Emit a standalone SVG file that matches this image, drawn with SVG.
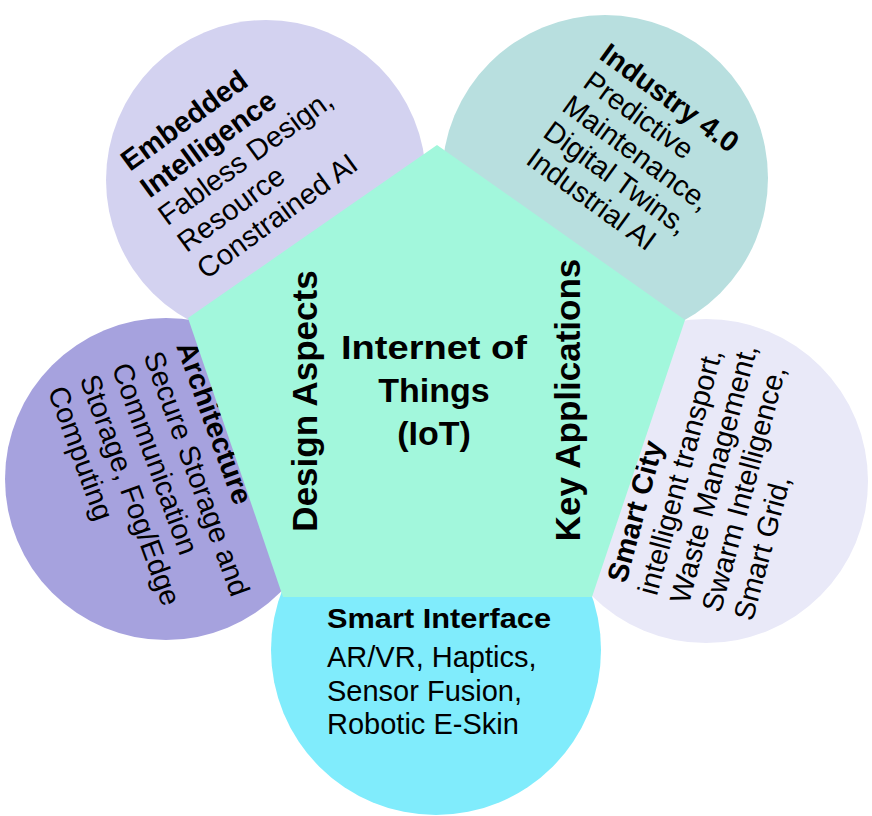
<svg xmlns="http://www.w3.org/2000/svg" width="872" height="816" viewBox="0 0 872 816">
<style>
text{font-family:"Liberation Sans",Arial,sans-serif;fill:#000}
.t{font-size:29px}
.b{font-weight:bold}
.c{font-weight:bold;font-size:34px;text-anchor:middle}
.v{font-weight:bold;font-size:35px;text-anchor:middle}
</style>
<rect width="872" height="816" fill="#fff"/>
<g id="embedded"><circle cx="266" cy="180" r="160" fill="#d3d2f0"/>
<g transform="translate(130,172) rotate(-36)" class="t"><text class="b" x="0" y="0">Embedded</text><text class="b" x="0" y="33">Intelligence</text><text x="-2" y="66">Fabless Design,</text><text x="-2" y="99">Resource</text><text x="-2" y="132">Constrained AI</text></g></g>
<g id="industry"><circle cx="605" cy="178" r="163" fill="#b8dfdf"/>
<g transform="translate(598,58) rotate(36)" class="t"><text class="b" x="0" y="0">Industry 4.0</text><text x="3" y="32">Predictive</text><text x="0" y="64">Maintenance,</text><text x="0" y="96">Digital Twins,</text><text x="2" y="128">Industrial AI</text></g></g>
<g id="architecture"><circle cx="166" cy="479" r="161" fill="#a6a2de"/>
<g transform="translate(176,346) rotate(70)" class="t"><text class="b" x="0" y="0">Architecture</text><text x="-2" y="34">Secure Storage and</text><text x="-2" y="68">Communication</text><text x="-2" y="102">Storage, Fog/Edge</text><text x="-2" y="136">Computing</text></g></g>
<g id="smartcity"><circle cx="706" cy="481" r="162" fill="#e9e9f8"/>
<g transform="translate(626,584) rotate(-75)" class="t"><text class="b" x="0" y="0">Smart City</text><text x="-4" y="33">intelligent transport,</text><text x="-4" y="66">Waste Management,</text><text x="-4" y="99">Swarm Intelligence,</text><text x="-4" y="132">Smart Grid,</text></g></g>
<g id="interface"><circle cx="436" cy="650" r="165" fill="#80ecfc"/>
<g class="t"><text class="b" x="327" y="628" textLength="224" lengthAdjust="spacingAndGlyphs" style="font-size:28px">Smart Interface</text><text x="327" y="667">AR/VR, Haptics,</text><text x="327" y="701">Sensor Fusion,</text><text x="327" y="734">Robotic E-Skin</text></g></g>
<g id="center"><polygon points="437,145 685,320 592,597 283,597 188,318" fill="#a2f7dc"/>
<text class="c" x="434" y="359" textLength="186" lengthAdjust="spacingAndGlyphs">Internet of</text><text class="c" x="434" y="402">Things</text><text class="c" x="434" y="445">(IoT)</text>
<text class="v" transform="translate(317,401) rotate(-90)">Design Aspects</text>
<text class="v" transform="translate(580,400) rotate(-90)">Key Applications</text></g>
<g id="connectors"/>
</svg>
